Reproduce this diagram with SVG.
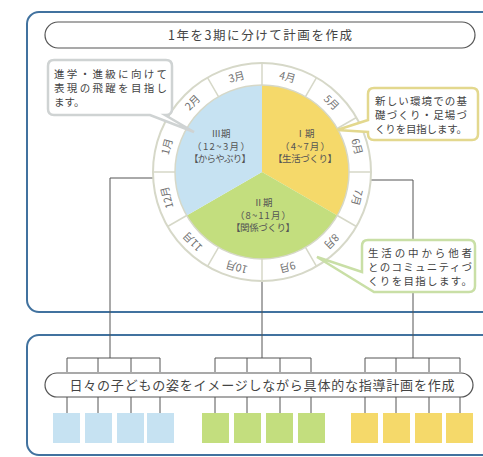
<svg xmlns="http://www.w3.org/2000/svg" width="483" height="457" viewBox="0 0 483 457">
<style>
text{font-family:"Noto Sans CJK JP","Noto Sans",sans-serif;fill:#444}
.panel{fill:#fff;stroke:#41729f;stroke-width:2}
.pill{fill:#fff;stroke:#555;stroke-width:1.2}
.ln{stroke:#555;stroke-width:1;fill:none}
.ring{fill:none;stroke:#d6d8c8;stroke-width:1.5}
.mon{font-size:10.5px;fill:#707070;text-anchor:middle}
.pt{font-size:9.5px;fill:#555;text-anchor:middle}
.ct{font-size:10.5px;fill:#444}
</style>
<rect width="483" height="457" fill="#fff"/>
<g id="panel-top"><rect class="panel" x="27" y="12" width="470" height="300" rx="12"/></g>
<g id="panel-bottom"><rect class="panel" x="27" y="335" width="470" height="120" rx="12"/></g>
<g id="title"><rect class="pill" x="45" y="22" width="430" height="26" rx="13"/>
<text x="260" y="39.5" font-size="12.5" text-anchor="middle" textLength="184" lengthAdjust="spacing">1年を3期に分けて計画を作成</text></g>
<g id="connectors">
<path class="ln" d="M180,178 H110 V358 M67,372 V358 H160 V372 M98,358 V372 M131,358 V372"/>
<path class="ln" d="M262,240 V358 M215,372 V358 H311 V372 M247,358 V372 M280,358 V372"/>
<path class="ln" d="M340,180 H413 V358 M365,372 V358 H460 V372 M396,358 V372 M429,358 V372"/>
<path class="ln" d="M67,397 V413 M98,397 V413 M131,397 V413 M160,397 V413 M215,397 V413 M247,397 V413 M280,397 V413 M311,397 V413 M365,397 V413 M396,397 V413 M429,397 V413 M460,397 V413"/>
</g>
<g id="wheel">
<circle cx="262" cy="172" r="109" fill="#fff" stroke="#d6d8c8" stroke-width="2"/>
<path d="M262,172 L262,85 A87,87 0 0 1 337.34,215.5 Z" fill="#f5d96a"/>
<path d="M262,172 L337.34,215.5 A87,87 0 0 1 186.66,215.5 Z" fill="#c3de7e"/>
<path d="M262,172 L186.66,215.5 A87,87 0 0 1 262,85 Z" fill="#c6e2f2"/>
<circle class="ring" cx="262" cy="172" r="87"/>
<g class="ring">
<path d="M262,85 V63 M305.5,96.7 L316.5,77.6 M337.3,128.5 L356.4,117.5 M349,172 H371 M337.3,215.5 L356.4,226.5 M305.5,247.3 L316.5,266.4 M262,259 V281 M218.5,247.3 L207.5,266.4 M186.7,215.5 L167.6,226.5 M175,172 H153 M186.7,128.5 L167.6,117.5 M218.5,96.7 L207.5,77.6"/>
</g>
<text class="mon" x="262" y="77.5" transform="rotate(15 262 172)">4月</text>
<text class="mon" x="262" y="77.5" transform="rotate(45 262 172)">5月</text>
<text class="mon" x="262" y="77.5" transform="rotate(75 262 172)">6月</text>
<text class="mon" x="262" y="77.5" transform="rotate(105 262 172)">7月</text>
<text class="mon" x="262" y="77.5" transform="rotate(135 262 172)">8月</text>
<text class="mon" x="262" y="77.5" transform="rotate(165 262 172)">9月</text>
<text class="mon" x="262" y="77.5" transform="rotate(195 262 172)">10月</text>
<text class="mon" x="262" y="77.5" transform="rotate(225 262 172)">11月</text>
<text class="mon" x="262" y="77.5" transform="rotate(255 262 172)">12月</text>
<text class="mon" x="262" y="77.5" transform="rotate(285 262 172)">1月</text>
<text class="mon" x="262" y="77.5" transform="rotate(315 262 172)">2月</text>
<text class="mon" x="262" y="77.5" transform="rotate(345 262 172)">3月</text>
</g>
<g id="period3"><text class="pt" x="221" y="137">Ⅲ期</text><text class="pt" x="221" y="149.5" textLength="58" lengthAdjust="spacing">（12~3月）</text><text class="pt" x="220" y="162" textLength="62" lengthAdjust="spacing">【からやぶり】</text></g>
<g id="period1"><text class="pt" x="305" y="137">Ⅰ期</text><text class="pt" x="305" y="149.5" textLength="50" lengthAdjust="spacing">（4~7月）</text><text class="pt" x="305" y="162" textLength="64" lengthAdjust="spacing">【生活づくり】</text></g>
<g id="period2"><text class="pt" x="263" y="206">Ⅱ期</text><text class="pt" x="263" y="218.5" textLength="56" lengthAdjust="spacing">（8~11月）</text><text class="pt" x="263" y="231" textLength="64" lengthAdjust="spacing">【関係づくり】</text></g>
<g id="callout1">
<path d="M54,60 H166 Q172,60 172,66 V109 Q172,115 166,115 L165,115 L194,132 L150,115 H54 Q48,115 48,109 V66 Q48,60 54,60 Z" fill="#fff" stroke="#cfd3d3" stroke-width="2.5"/>
<text class="ct" x="54" y="78" textLength="113" lengthAdjust="spacing">進学・進級に向けて</text>
<text class="ct" x="54" y="92" textLength="113" lengthAdjust="spacing">表現の飛躍を目指し</text>
<text class="ct" x="54" y="106">ます。</text>
</g>
<g id="callout2">
<path d="M374,88 H472 Q478,88 478,94 V134 Q478,140 472,140 H374 Q368,140 368,134 V132 L337,130 L368,120 V94 Q368,88 374,88 Z" fill="#fff" stroke="#e3d88e" stroke-width="2.5"/>
<text class="ct" x="375" y="105" textLength="92" lengthAdjust="spacing">新しい環境での基</text>
<text class="ct" x="375" y="119" textLength="92" lengthAdjust="spacing">礎づくり・足場づ</text>
<text class="ct" x="375" y="133" textLength="92" lengthAdjust="spacing">くりを目指します。</text>
</g>
<g id="callout3">
<path d="M368,240 H469 Q475,240 475,246 V286 Q475,292 469,292 H374 L317,257 L362,272 V246 Q362,240 368,240 Z" fill="#fff" stroke="#c9dfa6" stroke-width="2.5"/>
<text class="ct" x="368" y="257" textLength="104" lengthAdjust="spacing">生活の中から他者</text>
<text class="ct" x="368" y="271" textLength="104" lengthAdjust="spacing">とのコミュニティづ</text>
<text class="ct" x="368" y="285" textLength="104" lengthAdjust="spacing">くりを目指します。</text>
</g>
<g id="plan-pill"><rect class="pill" x="45" y="373" width="428" height="24" rx="12"/>
<text x="262" y="390" font-size="13" text-anchor="middle" textLength="385" lengthAdjust="spacing">日々の子どもの姿をイメージしながら具体的な指導計画を作成</text></g>
<g id="sheets-blue" fill="#c6e2f2"><rect x="53" y="413" width="27" height="30"/><rect x="85" y="413" width="27" height="30"/><rect x="117" y="413" width="27" height="30"/><rect x="147" y="413" width="27" height="30"/></g>
<g id="sheets-green" fill="#c3de7e"><rect x="202" y="413" width="27" height="30"/><rect x="234" y="413" width="27" height="30"/><rect x="266" y="413" width="27" height="30"/><rect x="298" y="413" width="27" height="30"/></g>
<g id="sheets-yellow" fill="#f5d96a"><rect x="351" y="413" width="27" height="30"/><rect x="383" y="413" width="27" height="30"/><rect x="415" y="413" width="27" height="30"/><rect x="446" y="413" width="27" height="30"/></g>
</svg>
